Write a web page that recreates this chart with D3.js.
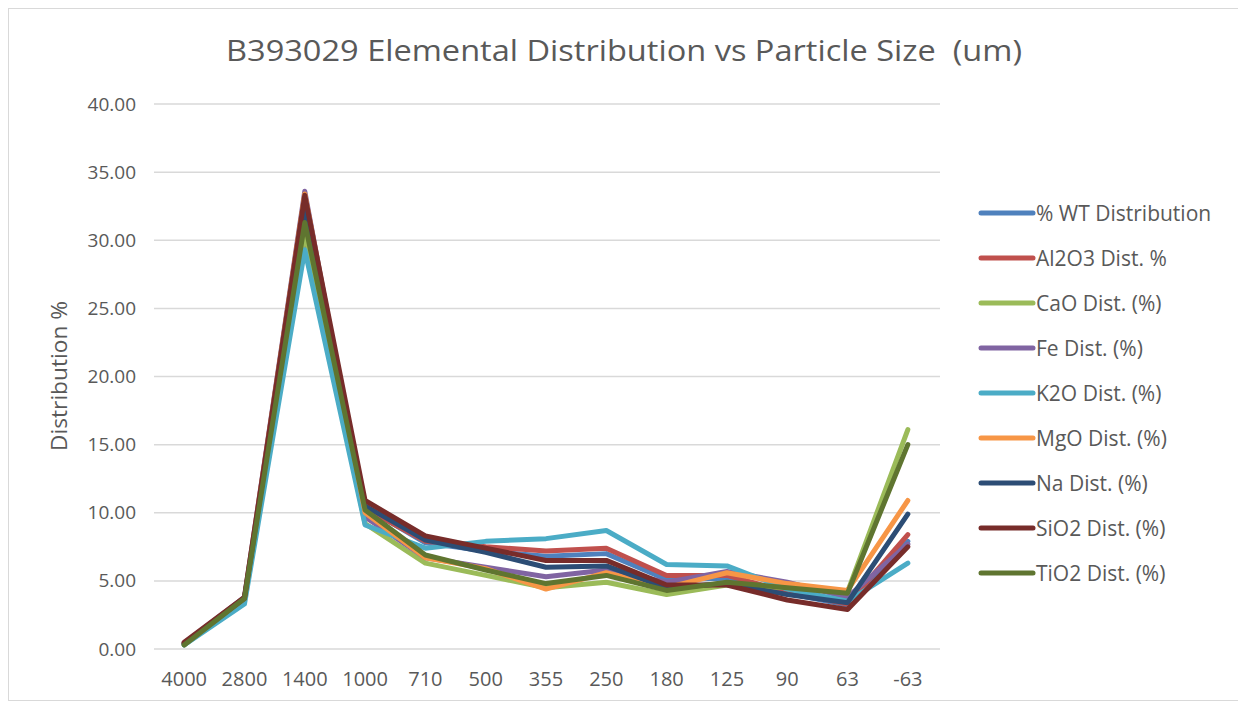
<!DOCTYPE html>
<html><head><meta charset="utf-8">
<script src="https://cdn.jsdelivr.net/npm/d3@7"></script>
<style>body{margin:0;background:#fff}svg{display:block;font-family:"Open Sans","Noto Sans",sans-serif}</style>
</head><body><svg id="c" width="1238" height="706"></svg>
<script>
const categories = ["4000","2800","1400","1000","710","500","355","250","180","125","90","63","-63"];
const seriesNames = ["% WT Distribution","Al2O3 Dist. %","CaO Dist. (%)","Fe Dist. (%)","K2O Dist. (%)","MgO Dist. (%)","Na Dist. (%)","SiO2 Dist. (%)","TiO2 Dist. (%)"];
const colors = ["#4F81BD","#C0504D","#9BBB59","#8064A2","#4BACC6","#F79646","#2C4D75","#772C2A","#5F7530"];
const wt    = [0.4, 3.7, 32.0, 10.4, 7.8, 7.2, 6.8, 7.0, 5.1, 5.2, 4.1, 3.2, 7.9];
const al2o3 = [0.4, 3.7, 29.8, 10.3, 7.9, 7.5, 7.2, 7.4, 5.4, 5.4, 4.2, 3.3, 8.4];
const cao   = [0.3, 3.6, 30.6, 9.2, 6.3, 5.4, 4.5, 4.9, 4.0, 4.7, 4.5, 4.2, 16.1];
const fe    = [0.4, 3.8, 33.6, 9.7, 6.7, 6.0, 5.3, 5.8, 4.9, 5.7, 4.9, 3.8, 7.7];
const k2o   = [0.3, 3.3, 29.3, 9.1, 7.4, 7.9, 8.1, 8.7, 6.2, 6.1, 4.4, 3.5, 6.3];
const mgo   = [0.4, 3.7, 33.4, 10.0, 6.7, 5.9, 4.4, 5.6, 4.5, 5.6, 4.8, 4.3, 10.9];
const na    = [0.4, 3.7, 32.5, 10.5, 8.0, 7.1, 6.0, 6.1, 4.5, 4.8, 4.0, 3.4, 9.9];
const sio2  = [0.5, 3.8, 33.3, 10.9, 8.3, 7.4, 6.5, 6.5, 4.7, 4.7, 3.6, 2.9, 7.5];
const tio2  = [0.3, 3.7, 31.3, 10.2, 6.9, 5.8, 4.8, 5.4, 4.3, 4.9, 4.5, 4.1, 15.0];
const yTicks = [0,5,10,15,20,25,30,35,40];
const allSeries = [wt, al2o3, cao, fe, k2o, mgo, na, sio2, tio2];

const svg = d3.select("#c");
const txt = "#595959";
svg.append("rect").attr("x",8.5).attr("y",8.5).attr("width",1240).attr("height",692)
  .attr("fill","none").attr("stroke","#d9d9d9");

const x = d3.scaleBand().domain(categories).range([154, 938]);
const y = d3.scaleLinear().domain([0,40]).range([649, 104]);

// gridlines
svg.append("g").selectAll("line").data(yTicks).join("line")
  .attr("x1",154).attr("x2",940).attr("y1",d=>y(d)).attr("y2",d=>y(d))
  .attr("stroke","#d9d9d9").attr("stroke-width",1.5);

// y axis labels
const yAxis = d3.axisLeft(y).tickValues(yTicks).tickFormat(d3.format(".2f")).tickSize(0).tickPadding(0);
const yg = svg.append("g").attr("transform","translate(136,0)").call(yAxis);
yg.select(".domain").remove();
yg.selectAll("text").attr("fill",txt).attr("font-size",19).attr("font-family","'Open Sans',sans-serif");

// x axis labels
const xAxis = d3.axisBottom(x).tickSize(0).tickPadding(0);
const xg = svg.append("g").attr("transform","translate(0,672)").call(xAxis);
xg.select(".domain").remove();
xg.selectAll("text").attr("fill",txt).attr("font-size",20).attr("font-family","'Open Sans',sans-serif");

// lines
const line = d3.line().x((d,i)=>x(categories[i])+x.bandwidth()/2).y(d=>y(d));
svg.append("g").selectAll("path").data(allSeries).join("path")
  .attr("d",d=>line(d)).attr("fill","none")
  .attr("stroke",(d,i)=>colors[i]).attr("stroke-width",5)
  .attr("stroke-linejoin","round").attr("stroke-linecap","round");

// title
svg.append("text").attr("x",624).attr("y",61).attr("text-anchor","middle")
  .attr("fill",txt).attr("font-size",30).attr("font-family","'Open Sans',sans-serif")
  .style("white-space","pre")
  .attr("textLength",796).attr("lengthAdjust","spacingAndGlyphs")
  .text("B393029 Elemental Distribution vs Particle Size  (um)");

// y title
svg.append("text").attr("transform","translate(67,376) rotate(-90)").attr("text-anchor","middle")
  .attr("fill",txt).attr("font-size",21)
  .attr("textLength",150).attr("lengthAdjust","spacingAndGlyphs").text("Distribution %");

// legend
const lg = svg.append("g").selectAll("g").data(seriesNames).join("g")
  .attr("transform",(d,i)=>`translate(981,${213+i*45})`);
lg.append("line").attr("x1",0).attr("x2",52).attr("stroke",(d,i)=>colors[i])
  .attr("stroke-width",5).attr("stroke-linecap","round");
lg.append("text").attr("x",55).attr("dy","0.36em").attr("fill",txt).attr("font-size",21).text(d=>d);
</script></body></html>
